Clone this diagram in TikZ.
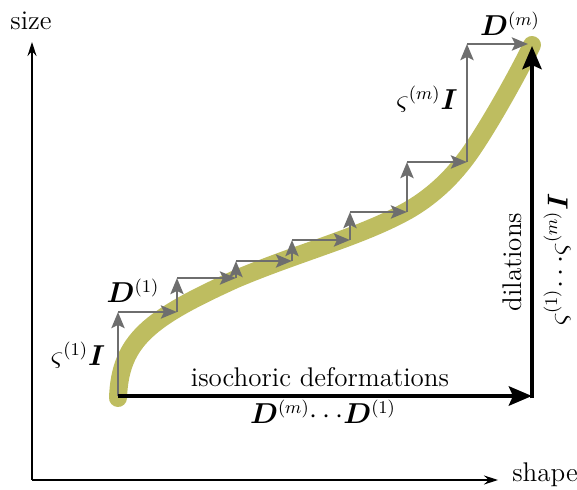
\documentclass[tikz,border=0pt]{standalone}
\usepackage{amsmath,amssymb,bm}
\usetikzlibrary{arrows.meta}

\begin{document}
\begin{tikzpicture}[x=0.5pt,y=-0.5pt,
  font=\fontsize{13.5}{16}\selectfont,
  axis/.style={line width=0.6pt,-{Stealth[length=7pt,width=4.5pt]}},
  stair/.style={cStep,line width=1.4pt,-{Stealth[length=8pt,width=6.5pt,inset=1.5pt]}},
  total/.style={line width=2.3pt,-{Stealth[length=11.5pt,width=9.5pt,inset=2pt]}}]

% colors
\definecolor{cPath}{RGB}{190,189,96}
\colorlet{cStep}{black!57}

\useasboundingbox (0,0) rectangle (577,490);

% axes
\coordinate (orig) at (32,480);
\coordinate (ytip) at (32,42);
\coordinate (xtip) at (498,480);
\draw[axis] (orig) -- (ytip);
\draw[axis] (orig) -- (xtip);
\node (size) at (31,21) {size};
\node (shape) at (545,475) {shape};

% deformation path
\draw[cPath,line width=9pt,line cap=round] (118,398)
  .. controls (120,340) and (150,318) .. (236,279)
  .. controls (300,252) and (360,237) .. (407,211)
  .. controls (430,198) and (450,180) .. (467,157)
  .. controls (484,134) and (515,80) .. (532,45);

% stepwise path
\foreach \xa/\ya/\xb/\yb [count=\k] in
  {118/396/177/312, 177/312/236/278, 236/278/292/261, 292/261/350/240,
   350/240/407/212, 407/212/467/162, 467/162/528/44}{
  \coordinate (s\k) at (\xa,\ya);
  \coordinate (t\k) at (\xa,\yb);
  \coordinate (u\k) at (\xb,\yb);
  \draw[stair] (s\k) -- (t\k);
  \draw[stair] (t\k) -- (u\k);
}

% split into shape and size
\coordinate (A) at (118,396);
\coordinate (B) at (532,396);
\coordinate (C) at (532,46);
\draw[total] (A) -- (B);
\draw[total] ([yshift=-1.2pt]B) -- (C);

% labels
\node (lD1) at (133,291) {$\bm{D}^{(1)}$};
\node (lS1) at (78,355) {$\varsigma^{(1)}\bm{I}$};
\node (lDm) at (510,24) {$\bm{D}^{(m)}$};
\node (lSm) at (427,99) {$\varsigma^{(m)}\bm{I}$};
\node (liso) at (320,377) {isochoric deformations};
\node (lDD) at (323,412) {$\bm{D}^{(m)}\!\cdots\!\bm{D}^{(1)}$};
\node[rotate=90] (ldil) at (512,262) {dilations};
\node[rotate=90] (lSS) at (557,260) {$\varsigma^{(1)}\!\cdots\!\varsigma^{(m)}\bm{I}$};

\end{tikzpicture}
\end{document}
